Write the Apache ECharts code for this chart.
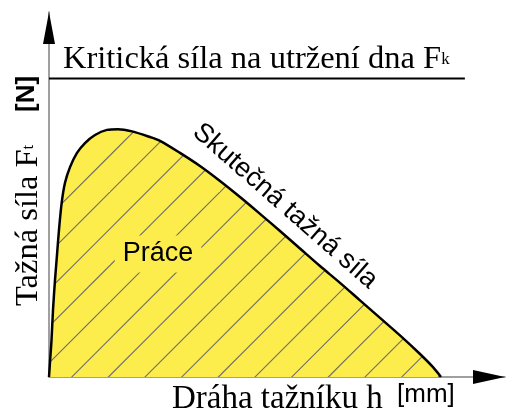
<!DOCTYPE html>
<html>
<head>
<meta charset="utf-8">
<style type="text/css">
html, body{margin:0;padding:0;background:#fff;}
#main{width:506px;height:412px;}
</style>
</head>
<body>
<div id="main"></div>
<script src="https://cdn.jsdelivr.net/npm/echarts@6/dist/echarts.min.js"></script>
<script>
// dráha tažníku (osa x, 0-100) a tažná síla (osa y, 0-100)
var drahaH = [0, 0.22, 0.55, 0.88, 1.32, 1.75, 2.19, 2.78, 3.51, 4.61, 6.14, 7.89, 10.09, 12.72, 15.13, 18.2,
              22.15, 24.34, 28.73, 33.11, 37.5, 41.89, 46.27, 50.66, 55.04, 59.43, 63.82, 68.2, 72.59, 76.97, 81.36, 84.21, 85.96];
var silaFt = [0, 4.1, 10.1, 18.4, 26.6, 33.4, 40.3, 47.7, 53.2, 57.5, 61.4, 64.1, 66.3, 67.7, 67.9, 67.3,
              65.75, 64.7, 61.4, 57.8, 53.7, 49.3, 44.7, 40.0, 35.2, 30.4, 25.8, 21.0, 16.2, 11.4, 6.3, 2.7, 0];
// kritická síla Fk a její rozsah na ose x
var silaFk = [81.8];
var fkRozsah = [0, 91.2];

var krivka = [];
for (var i = 0; i < drahaH.length; i++) {
    krivka.push([drahaH[i], silaFt[i]]);
}

// šrafování - žlutá s šedými čarami pod 45°
function srafy() {
    var s = 110, c = document.createElement('canvas');
    c.width = s; c.height = s;
    var g = c.getContext('2d');
    g.fillStyle = '#fcec4c';
    g.fillRect(0, 0, s, s);
    g.strokeStyle = '#6f6f6f';
    g.lineWidth = 1.1;
    for (var k = -1; k <= 7; k++) {
        var cc = 8.7 + k * 36.667;
        g.beginPath();
        g.moveTo(cc + 5, -5);
        g.lineTo(cc - s - 5, s + 5);
        g.stroke();
    }
    return c;
}

var serif = '"Liberation Serif", "DejaVu Serif", serif';
var sans = '"Liberation Sans", Arial, sans-serif';

var chart = echarts.init(document.getElementById('main'));

var option = {
    backgroundColor: '#fff',
    animation: false,
    grid: {left: 49, right: 1, top: 12, bottom: 35},
    xAxis: {
        type: 'value', min: 0, max: 100,
        axisLine: {show: true, lineStyle: {color: '#808080', width: 1.5}},
        axisTick: {show: false}, axisLabel: {show: false}, splitLine: {show: false}
    },
    yAxis: {
        type: 'value', min: 0, max: 100,
        axisLine: {show: true, lineStyle: {color: '#808080', width: 1.5}},
        axisTick: {show: false}, axisLabel: {show: false}, splitLine: {show: false}
    },
    series: [
        {
            name: 'Skutečná tažná síla',
            type: 'line',
            data: krivka,
            smooth: 0.3,
            symbol: 'none',
            lineStyle: {color: '#000', width: 2.5},
            areaStyle: {color: {image: srafy(), repeat: 'repeat'}, opacity: 1},
            z: 3
        },
        {
            name: 'Fk',
            type: 'line',
            data: [[fkRozsah[0], silaFk[0]], [fkRozsah[1], silaFk[0]]],
            symbol: 'none',
            lineStyle: {color: '#000', width: 2},
            z: 4
        }
    ],
    graphic: [
        // šipky os
        {type: 'polygon', shape: {points: [[49, 12], [43, 44], [55, 44]]}, style: {fill: '#000'}, z: 10},
        {type: 'polygon', shape: {points: [[505, 377], [473, 370], [473, 384]]}, style: {fill: '#000'}, z: 10},
        {
            type: 'text', x: 63, y: 76, z: 10,
            style: {
                text: '{a|Kritická síla na utržení dna F}{b|k}',
                verticalAlign: 'bottom',
                rich: {
                    a: {fontFamily: serif, fontSize: 32.5, fill: '#000'},
                    b: {fontFamily: serif, fontSize: 17, fill: '#000'}
                }
            }
        },
        {
            type: 'text', x: 45, y: 306, rotation: Math.PI / 2, z: 10,
            style: {
                text: '{a|Tažná síla F}{b|t}',
                verticalAlign: 'bottom',
                rich: {
                    a: {fontFamily: serif, fontSize: 32.5, fill: '#000'},
                    b: {fontFamily: serif, fontSize: 17, fill: '#000'}
                }
            }
        },
        {
            type: 'text', x: 27, y: 112, rotation: Math.PI / 2, z: 10,
            style: {text: '[N]', font: 'bold 26px ' + sans, fill: '#000', verticalAlign: 'middle'}
        },
        {
            type: 'text', x: 172, y: 416, z: 10,
            style: {text: 'Dráha tažníku h', font: '33px ' + serif, fill: '#000', verticalAlign: 'bottom'}
        },
        {
            type: 'text', x: 397, y: 382, z: 10,
            style: {text: '[mm]', font: '26px ' + sans, fill: '#000', verticalAlign: 'top'}
        },
        {
            type: 'text', x: 158, y: 254, z: 10,
            style: {
                text: 'Práce', font: '27px ' + sans, fill: '#000',
                align: 'center', verticalAlign: 'middle',
                backgroundColor: '#fcec4c', padding: [5, 8]
            }
        },
        {
            type: 'text', x: 285, y: 206, rotation: -0.72, z: 10,
            style: {
                text: 'Skutečná tažná síla', font: '27px ' + sans, fill: '#000',
                align: 'center', verticalAlign: 'middle'
            }
        }
    ]
};

chart.setOption(option);
</script>
</body>
</html>
